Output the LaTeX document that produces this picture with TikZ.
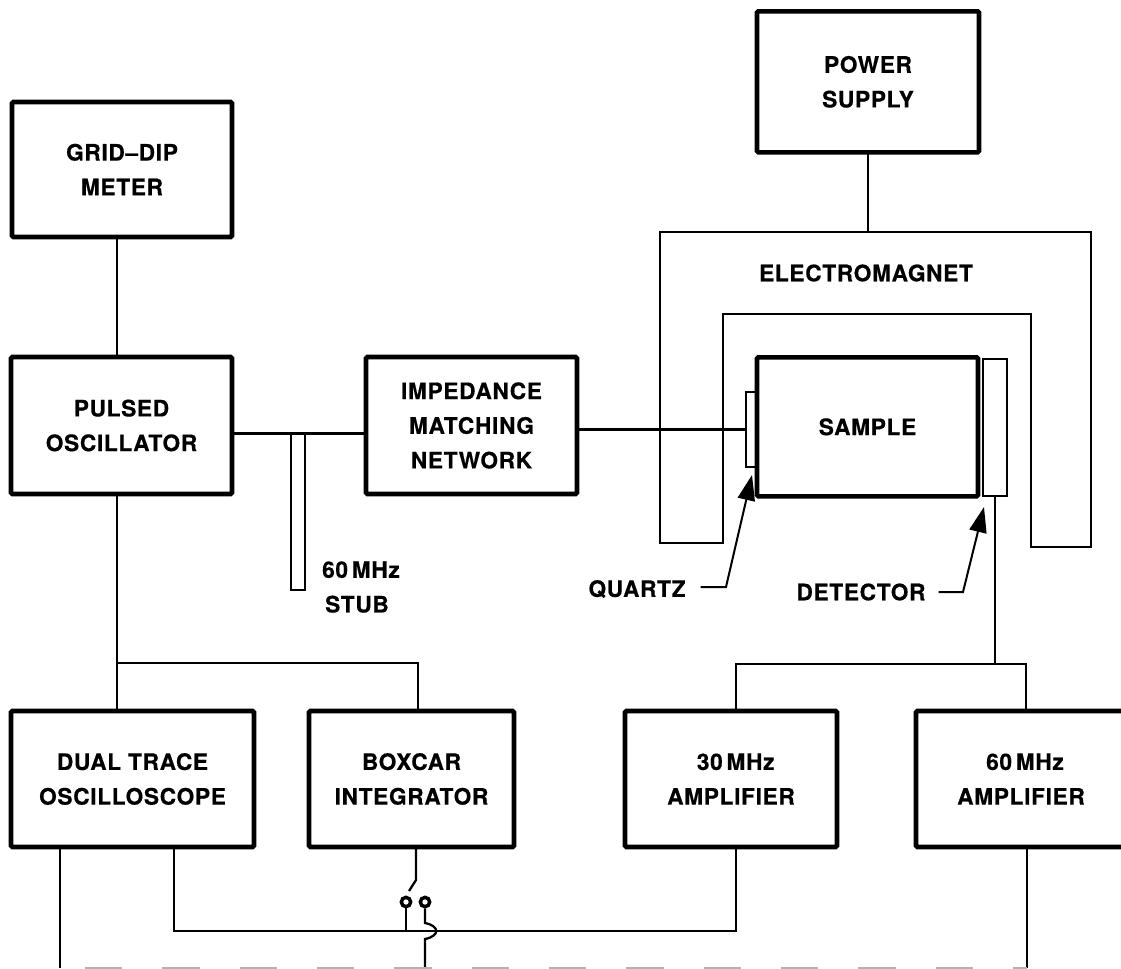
\documentclass[tikz,border=0pt]{standalone}
\usepackage{fontspec}
\setmainfont{TeX Gyre Heros}[BoldFeatures={FakeBold=0.5, LetterSpace=3}]
\usetikzlibrary{arrows.meta, positioning, calc}

\begin{document}
\begin{tikzpicture}[x=0.75pt, y=-0.75pt, >=Stealth, line width=1.7pt,
            box/.style={draw, rectangle, line width=3.4pt, rounded corners=1pt, outer sep=0pt, align=center, font=\fontsize{17}{26}\selectfont\bfseries},
            thinbox/.style={draw, rectangle, line width=1.7pt, outer sep=0pt, inner sep=0pt},
            lbl/.style={align=center, inner sep=0pt, font=\fontsize{17}{26}\selectfont\bfseries},
            pointer/.style={-{Triangle[length=19pt, width=13pt]}, line width=1.5pt}]

            \useasboundingbox (0,0) rectangle (1121,968);

            % left column
            \node[box, minimum width=165pt, minimum height=101.25pt, anchor=north west] (griddip) at (12,102) {GRID--DIP\\METER};
            \node[box, minimum width=165.75pt, minimum height=102.75pt, below=90pt of griddip.south west, anchor=north west, xshift=-0.75pt] (pulsed) {PULSED\\OSCILLATOR};
            \node[box, minimum width=158.25pt, minimum height=102.75pt, right=100.5pt of pulsed] (impedance) {IMPEDANCE\\MATCHING\\NETWORK};
            \node[box, minimum width=165.75pt, minimum height=104.25pt, right=135pt of impedance, yshift=-1pt] (sample) {SAMPLE};
            \node[thinbox, minimum width=8.25pt, minimum height=56pt, left=0pt of sample, yshift=-2pt] (quartz) {};
            \node[thinbox, minimum width=18pt, minimum height=102.75pt, right=3.75pt of sample, yshift=-0.75pt] (detector) {};
            \node[box, minimum width=166.5pt, minimum height=105.75pt, above=153.75pt of sample.north west, anchor=south west] (power) {POWER\\SUPPLY};

            % bottom row
            \node[box, minimum width=182.25pt, minimum height=102pt, below=162.75pt of pulsed.south west, anchor=north west] (dual) {DUAL TRACE\\OSCILLOSCOPE};
            \node[box, minimum width=153.75pt, minimum height=102pt, right=41.25pt of dual] (boxcar) {BOXCAR\\INTEGRATOR};
            \node[box, minimum width=159pt, minimum height=102pt, right=83.25pt of boxcar] (amp30) {\hspace*{7pt}30\,MHz\\AMPLIFIER};
            \node[box, minimum width=157.5pt, minimum height=102pt, right=59.25pt of amp30] (amp60) {\hspace*{6pt}60\,MHz\\AMPLIFIER};

            % magnet and stub
            \draw (660,232) -- (1091,232) -- (1091,547) -- (1031,547) -- (1031,314) -- (723,314) -- (723,543) -- (660,543) -- cycle;
            \node[lbl] (magnet) at (866,273) {ELECTROMAGNET};
            \node[thinbox, minimum width=10.5pt, minimum height=117pt, anchor=north] (stub) at (298,434) {};
            \node[lbl] (stublabel) at (357,587) {\hspace*{6pt}60\,MHz\\STUB};
            \node[lbl] (quartzlabel) at (637,589) {QUARTZ};
            \node[lbl] (detectorlabel) at (861,592) {DETECTOR};

            \coordinate (magnettop) at (0,232);
            \coordinate (branchR) at (0,664);
            \coordinate (botline) at (0,931);

            \draw (griddip.south -| 117,0) -- (pulsed.north -| 117,0);
            \draw (power.south) -- (power.south |- magnettop);
            \draw ($(pulsed.east)+(0,8)$) -- ($(impedance.west)+(0,8)$);
            \draw (impedance.east |- quartz.west) -- (quartz.west);

            \draw (pulsed.south -| 117,0) -- (dual.north -| 117,0);
            \draw (117,663) -- (418,663) -- (boxcar.north -| 418,0);
            \draw (detector.south -| 995,0) -- (995,664);
            \draw (amp30.north -| 736,0) -- (736,664) -- (1026,664) -- (amp60.north -| 1026,0);

            \draw[pointer] ($(quartzlabel.east)+(14,-2)$) -- (726,587) -- (752,475);
            \draw[pointer] ($(detectorlabel.east)+(12,0)$) -- (963,592) -- (984,507);

            % switch
            \node[circle, draw, line width=2.6pt, inner sep=0pt, minimum size=7pt] (termA) at (406,902) {};
            \node[circle, draw, line width=2.6pt, inner sep=0pt, minimum size=7pt] (termB) at (425,902) {};
            \draw (boxcar.south -| 416,0) -- (416,880) -- (409,891);
            \draw (termA) -- (termA |- botline);
            \draw (termB) -- (425,923) .. controls (440,926) and (440,936) .. (425,939) -- (425,968);

            \draw (dual.south -| 174,0) -- (174,931) -- (736,931) -- (amp30.south -| 736,0);
            \draw (dual.south -| 60,0) -- (60,968);
            \draw (amp60.south -| 1027,0) -- (1027,968);
            \draw[gray!60, dash pattern=on 28pt off 30pt] (85,968) -- (1027,968);
        \end{tikzpicture}
\end{document}
